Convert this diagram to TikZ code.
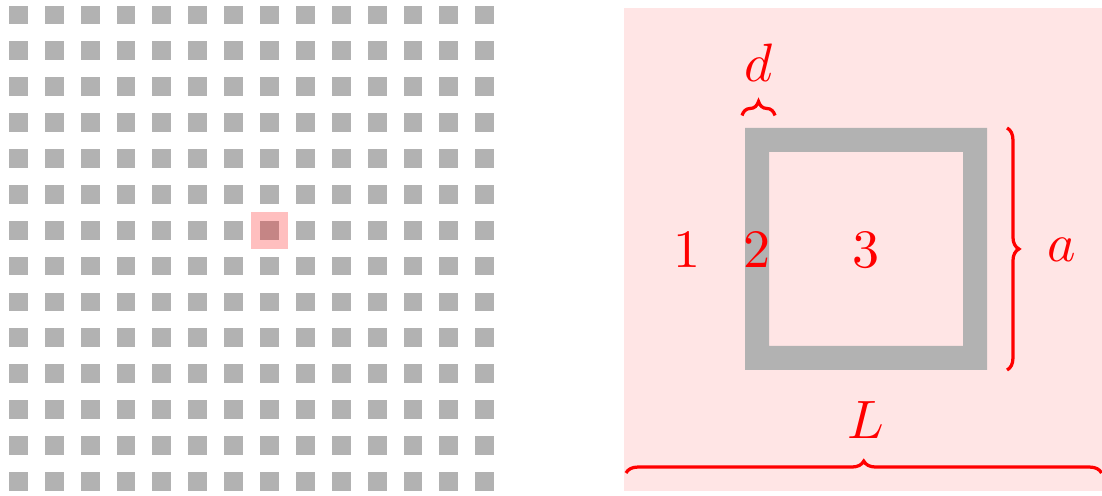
\documentclass[tikz,border=0pt]{standalone}
\usetikzlibrary{decorations.pathreplacing}
\begin{document}
\begin{tikzpicture}[x=0.065cm, y=0.065cm]
	\tikzset{
		cell/.style={fill=black!30},
		brace/.style={red, line width=0.6pt, decorate, decoration={brace, amplitude=#1}},
		brace/.default=2.2pt,
		lbl/.style={text=red, inner sep=0pt}
	}
	\useasboundingbox (0,0) rectangle (110.2,49.6);
	
	% lattice of cells
	\foreach \i in {0,...,13}
		\foreach \j in {0,...,13}
			\fill[cell] (0.9+3.587*\i, 0.53+3.587*\j) rectangle ++(1.88,1.88);
	
	% highlighted unit cell
	\fill[red, opacity=0.25] (26.95,26.58) ++(-1.85,-1.85) rectangle ++(3.7,3.7);
	
	% unit cell, enlarged
	\fill[red!10] (62.4,0.53) rectangle (110.2,48.8);
	\fill[cell, even odd rule] (74.5,12.6) rectangle (98.7,36.8) (76.9,15.0) rectangle (96.3,34.4);
	
	% region labels
	\node[lbl] (r1) at (68.7,24.6) {$1$};
	\node[lbl] (r2) at (75.7,24.6) {$2$};
	\node[lbl] (r3) at (86.6,24.6) {$3$};
	
	% braces and sizes
	\draw[brace=2.6pt] (74.2,38.05) -- (77.5,38.05);
	\draw[brace] (100.7,36.8) -- (100.7,12.6);
	\draw[brace] (62.6,2.3) -- (110.15,2.3);
	\node[lbl] (sd) at (75.9,43.3) {$d$};
	\node[lbl] (sa) at (106.2,24.6) {$a$};
	\node[lbl] (sL) at (86.6,7.6) {$L$};
	
\end{tikzpicture}
\end{document}
